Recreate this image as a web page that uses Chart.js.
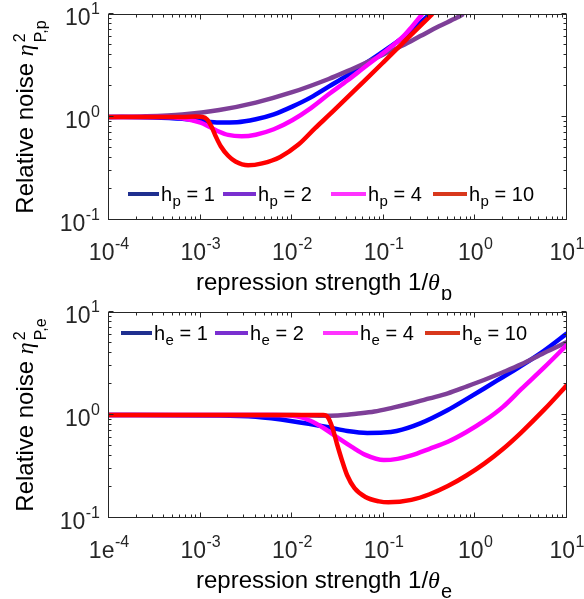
<!DOCTYPE html>
<html><head><meta charset="utf-8">
<script src="https://cdn.jsdelivr.net/npm/chart.js@4.4.0/dist/chart.umd.min.js"></script>
<style>html,body{margin:0;padding:0;background:#fff;overflow:hidden}canvas{display:block}</style>
</head><body>
<canvas id="c1" width="584" height="300"></canvas>
<canvas id="c2" width="584" height="299"></canvas>
<script>
// ---------------- DATA ----------------
const xTickValues = [1e-4, 1e-3, 1e-2, 1e-1, 1, 10];
const yTickValues = [0.1, 1, 10];
const topXTickLabels = ['10^-4', '10^-3', '10^-2', '10^-1', '10^0', '10^1'];
const bottomXTickLabels = ['1e^-4', '10^-3', '10^-2', '10^-1', '10^0', '10^1'];
const yTickLabels = ['10^-1', '10^0', '10^1'];
const hillValues = [1, 2, 4, 10];

// top panel: relative noise vs 1/theta_p
const topH1X = [1e-4, 3e-4, 6.3e-4, 1e-3, 1.6e-3, 2.5e-3, 4e-3, 6.3e-3, 1e-2, 1.6e-2, 2.5e-2, 4e-2, 6.3e-2, 0.1, 0.16, 0.25, 0.32];
const topH1Y = [1.0, 0.99, 0.96, 0.92, 0.885, 0.89, 0.95, 1.06, 1.26, 1.55, 1.97, 2.54, 3.31, 4.37, 5.89, 8.22, 10];
const topH2X = [1e-4, 2.5e-4, 6.3e-4, 1.6e-3, 4e-3, 1e-2, 2.5e-2, 4e-2, 6.3e-2, 0.1, 0.16, 0.25, 0.4, 0.63, 0.74];
const topH2Y = [1.0, 1.016, 1.06, 1.17, 1.38, 1.74, 2.34, 2.79, 3.35, 4.07, 4.95, 6.1, 7.59, 9.23, 10];
const topH4X = [1e-4, 4e-4, 6.3e-4, 1e-3, 1.26e-3, 1.6e-3, 2e-3, 2.8e-3, 4e-3, 6.3e-3, 1e-2, 1.6e-2, 2.5e-2, 4e-2, 6.3e-2, 0.1, 0.16, 0.2, 0.25, 0.263];
const topH4Y = [1.0, 1.0, 0.97, 0.88, 0.8, 0.72, 0.67, 0.65, 0.673, 0.76, 0.93, 1.22, 1.66, 2.26, 3.09, 4.22, 5.96, 7.41, 9.44, 10];
const topH10X = [1e-4, 6.3e-4, 8.9e-4, 1.05e-3, 1.17e-3, 1.32e-3, 1.45e-3, 1.66e-3, 2e-3, 2.4e-3, 3.3e-3, 4.7e-3, 7.4e-3, 1.17e-2, 1.78e-2, 2.6e-2, 4e-2, 6.3e-2, 0.1, 0.16, 0.25, 0.34];
const topH10Y = [1.0, 1.0, 1.01, 1.0, 0.95, 0.8, 0.66, 0.52, 0.42, 0.37, 0.34, 0.355, 0.41, 0.54, 0.78, 1.07, 1.55, 2.29, 3.43, 5.19, 7.67, 10];

// bottom panel: relative noise vs 1/theta_e
const botH1X = [1e-4, 1.6e-3, 4e-3, 1e-2, 2.5e-2, 4e-2, 6.6e-2, 0.1, 0.138, 0.25, 0.5, 0.79, 1.26, 2.0, 3.16, 5.6, 10];
const botH1Y = [1.0, 0.99, 0.96, 0.87, 0.76, 0.70, 0.67, 0.675, 0.70, 0.83, 1.12, 1.42, 1.82, 2.34, 3.0, 4.2, 6.2];
const botH2X = [1e-4, 1e-2, 2e-2, 3.16e-2, 5e-2, 7.9e-2, 0.126, 0.2, 0.316, 0.5, 0.79, 1.26, 2.0, 3.16, 5.6, 10];
const botH2Y = [1.0, 1.0, 0.985, 0.99, 1.03, 1.08, 1.18, 1.3, 1.45, 1.62, 1.88, 2.2, 2.6, 3.1, 4.0, 5.1];
const botH4X = [1e-4, 6.3e-3, 1.12e-2, 1.58e-2, 2.24e-2, 3.16e-2, 4.47e-2, 6.3e-2, 0.1, 0.141, 0.2, 0.316, 0.5, 0.79, 1.26, 2.0, 3.16, 5.6, 10];
const botH4Y = [1.0, 1.0, 0.97, 0.88, 0.74, 0.6, 0.49, 0.41, 0.365, 0.375, 0.405, 0.47, 0.55, 0.68, 0.88, 1.2, 1.78, 2.88, 4.8];
const botH10X = [1e-4, 2.19e-2, 2.45e-2, 2.75e-2, 3.09e-2, 3.47e-2, 3.98e-2, 4.79e-2, 6.3e-2, 8.9e-2, 0.112, 0.2, 0.316, 0.5, 0.79, 1.26, 2.0, 3.16, 5.6, 10];
const botH10Y = [1.0, 1.0, 0.95, 0.75, 0.52, 0.37, 0.26, 0.195, 0.16, 0.145, 0.142, 0.15, 0.17, 0.204, 0.257, 0.339, 0.468, 0.676, 1.12, 1.95];

// ---------------- STYLE ----------------
const FONT = '"Liberation Sans", Arial, Helvetica, sans-serif';
const SERIF = '"Liberation Serif", "DejaVu Serif", serif';
const curveColors = ['#0000ff', '#7e3f98', '#ff00ff', '#ff0000'];
const legendColors = ['#1f2f8f', '#7a2fd0', '#ff33ff', '#d8381c'];
const AXIS = '#262626';

function pts(xs, ys) { return xs.map((x, i) => ({x: x, y: ys[i]})); }

function measure(ctx, parts) {
  let w = 0;
  for (const p of parts) {
    ctx.font = p.font;
    if (p.stack) w += Math.max(ctx.measureText(p.sup).width, ctx.measureText(p.sub).width) + (p.dx || 0);
    else w += ctx.measureText(p.t).width + (p.dx || 0);
  }
  return w;
}
function drawParts(ctx, parts, x, y) {
  for (const p of parts) {
    x += (p.dx || 0);
    ctx.font = p.font;
    if (p.stack) {
      ctx.fillText(p.sup, x, y + p.supDy);
      ctx.fillText(p.sub, x, y + p.subDy);
      x += Math.max(ctx.measureText(p.sup).width, ctx.measureText(p.sub).width);
    } else {
      ctx.fillText(p.t, x, y + (p.dy || 0));
      x += ctx.measureText(p.t).width;
    }
  }
}
function tickParts(label) {
  const s = label.split('^');
  return [{t: s[0], font: '23px ' + FONT}, {t: s[1], font: '16px ' + FONT, dy: -11, dx: 0.5}];
}

const axesPlugin = {
  id: 'matlabAxes',
  afterDraw(chart, args, o) {
    const ctx = chart.ctx, a = chart.chartArea;
    const xs = chart.scales.x, ys = chart.scales.y;
    const L = Math.round(a.left) - 0.5, R = Math.round(a.right) - 0.5;
    const T = Math.round(a.top) + 0.5, B = Math.round(a.bottom) - 0.5;
    ctx.save();
    ctx.strokeStyle = AXIS; ctx.lineWidth = 1;
    ctx.strokeRect(L, T, R - L, B - T);
    ctx.beginPath();
    const xMin = Math.log10(xs.min), xMax = Math.log10(xs.max);
    for (let e = Math.round(xMin); e <= Math.round(xMax); e++) {
      for (let m = 1; m <= 9; m++) {
        const v = m * Math.pow(10, e);
        if (v > xs.max * 1.0001) break;
        const px = Math.round(xs.getPixelForValue(v)) - 0.5;
        const len = m === 1 ? 5 : 3;
        ctx.moveTo(px, B); ctx.lineTo(px, B - len);
        ctx.moveTo(px, T); ctx.lineTo(px, T + len);
      }
    }
    const yMin = Math.log10(ys.min), yMax = Math.log10(ys.max);
    for (let e = Math.round(yMin); e <= Math.round(yMax); e++) {
      for (let m = 1; m <= 9; m++) {
        const v = m * Math.pow(10, e);
        if (v > ys.max * 1.0001) break;
        const py = Math.round(ys.getPixelForValue(v)) - 0.5;
        const len = m === 1 ? 5 : 3;
        ctx.moveTo(L, py); ctx.lineTo(L + len, py);
        ctx.moveTo(R, py); ctx.lineTo(R - len, py);
      }
    }
    ctx.stroke();
    ctx.fillStyle = AXIS; ctx.textBaseline = 'alphabetic';
    xs.ticks.forEach((t, i) => {
      const parts = tickParts(o.xLabels[i]);
      const w = measure(ctx, parts);
      const px = xs.getPixelForValue(t.value);
      drawParts(ctx, parts, px - w / 2, a.bottom + 40);
    });
    ys.ticks.forEach((t, i) => {
      const parts = tickParts(o.yLabels[i]);
      const w = measure(ctx, parts);
      const py = ys.getPixelForValue(t.value);
      drawParts(ctx, parts, a.left - 9 - w, py + 11);
    });
    ctx.fillStyle = '#000';
    const xt = [
      {t: 'repression strength 1/', font: '24px ' + FONT},
      {t: 'θ', font: 'italic 24px ' + SERIF},
      {t: o.sub, font: '20px ' + FONT, dy: 10, dx: 1}
    ];
    const xw = measure(ctx, xt);
    drawParts(ctx, xt, (a.left + a.right) / 2 - 14 - xw / 2, a.bottom + 70);
    const yt = [
      {t: 'Relative noise ', font: '24px ' + FONT},
      {t: 'η', font: 'italic 24px ' + SERIF},
      {stack: true, sup: '2', sub: 'P,' + o.sub, font: '16px ' + FONT, supDy: -8, subDy: 13, dx: 2}
    ];
    const yw = measure(ctx, yt);
    ctx.translate(33, (a.top + a.bottom) / 2);
    ctx.rotate(-Math.PI / 2);
    drawParts(ctx, yt, -yw / 2, 0);
    ctx.restore();
    ctx.save();
    chart.data.datasets.forEach((ds, i) => {
      const lx = o.legendX[i];
      ctx.strokeStyle = legendColors[i]; ctx.lineWidth = 4;
      ctx.beginPath(); ctx.moveTo(lx[0], o.legendY); ctx.lineTo(lx[1], o.legendY); ctx.stroke();
      ctx.fillStyle = '#000';
      drawParts(ctx, [
        {t: 'h', font: '20px ' + FONT},
        {t: o.sub, font: '15px ' + FONT, dy: 5, dx: 0.5},
        {t: ' = ' + hillValues[i], font: '20px ' + FONT}
      ], lx[1] + 2, o.legendY + 7);
    });
    ctx.restore();
  }
};

function makeChart(id, sets, opt) {
  const datasets = sets.map((s, i) => ({
    label: 'h' + opt.sub + ' = ' + hillValues[i],
    data: pts(s[0], s[1]),
    borderColor: curveColors[i],
    borderWidth: 4.5,
    pointRadius: 0,
    fill: false,
    cubicInterpolationMode: 'monotone',
    borderJoinStyle: 'round',
    clip: 0,
    order: 4 - i
  }));
  return new Chart(document.getElementById(id), {
    type: 'line',
    data: {datasets: datasets},
    options: {
      responsive: false, animation: false, devicePixelRatio: 1,
      layout: {padding: {top: opt.top, right: 17, left: 0, bottom: 0}},
      plugins: {legend: {display: false}, tooltip: {enabled: false},
        matlabAxes: {xLabels: opt.xLabels, yLabels: yTickLabels, sub: opt.sub, legendX: opt.legendX, legendY: opt.legendY}},
      scales: {
        x: {type: 'logarithmic', min: 1e-4, max: 10,
          ticks: {display: false}, grid: {display: false}, border: {display: false},
          afterBuildTicks(s) { s.ticks = xTickValues.map(v => ({value: v})); },
          afterFit(s) { s.height = opt.xh; }},
        y: {type: 'logarithmic', min: 0.1, max: 10,
          ticks: {display: false}, grid: {display: false}, border: {display: false},
          afterBuildTicks(s) { s.ticks = yTickValues.map(v => ({value: v})); },
          afterFit(s) { s.width = 109; }}
      }
    },
    plugins: [axesPlugin]
  });
}

makeChart('c1', [[topH1X, topH1Y], [topH2X, topH2Y], [topH4X, topH4Y], [topH10X, topH10Y]],
  {sub: 'p', xLabels: topXTickLabels, top: 14, xh: 80,
   legendX: [[128, 159], [223, 256], [331, 366], [433, 467]], legendY: 194});
makeChart('c2', [[botH1X, botH1Y], [botH2X, botH2Y], [botH4X, botH4Y], [botH10X, botH10Y]],
  {sub: 'e', xLabels: bottomXTickLabels, top: 12, xh: 81,
   legendX: [[121, 152], [215, 248], [323, 358], [425, 460]], legendY: 33});
</script>
</body></html>
